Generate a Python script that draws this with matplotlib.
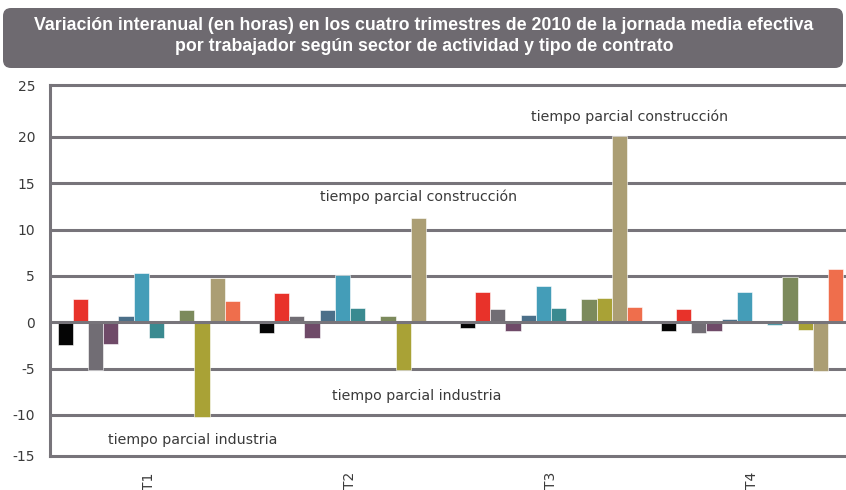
import matplotlib.pyplot as plt
import numpy as np
from matplotlib.patches import FancyBboxPatch

# Quarters on the x axis
quarters = ['T1', 'T2', 'T3', 'T4']

# Year-on-year change (hours) for each of the 12 series, per quarter
t1 = [-2.5, 2.55, -5.1, -2.3, 0.7, 5.3, -1.75, 0.0, 1.35, -10.2, 4.8, 2.35]
t2 = [-1.2, 3.2, 0.7, -1.7, 1.35, 5.05, 1.55, 0.0, 0.7, -5.2, 11.3, 0.0]
t3 = [-0.6, 3.25, 1.4, -0.9, 0.75, 3.95, 1.55, 0.0, 2.5, 2.6, 20.1, 1.7]
t4 = [-0.9, 1.4, -1.2, -0.9, 0.4, 3.25, 0.0, -0.3, 4.9, -0.85, -5.3, 5.75]

colors = ['#050505', '#e8322a', '#716d74', '#6f4a68', '#4b6f89', '#449db8',
          '#3a8a90', '#4e9aa8', '#7c8a5c', '#a9a236', '#ab9e74', '#ef6e4c']

y_labels = ['-15', '-10', '-5', '0', '5', '10', '15', '20', '25']

title = ('Variación interanual (en horas) en los cuatro trimestres de 2010 de la jornada media efectiva\n'
         'por trabajador según sector de actividad y tipo de contrato')

grid_color = '#77747a'
text_color = '#3a3a3a'

values = np.array([t1, t2, t3, t4])
n_series = values.shape[1]
width = 0.0756

fig = plt.figure(figsize=(8.46, 4.90), dpi=100)

# title banner drawn in pixel coordinates
bg = fig.add_axes([0, 0, 1, 1])
bg.set_xlim(0, 846)
bg.set_ylim(490, 0)
bg.axis('off')
bg.add_patch(FancyBboxPatch((3, 8), 840, 60, boxstyle='round,pad=0,rounding_size=8',
                            facecolor='#6e6a70', edgecolor='none'))
bg.text(424, 36, title, ha='center', va='center', color='white', fontsize=12.8,
        fontweight='bold', family=['Liberation Sans', 'DejaVu Sans'], linespacing=1.25)

ax = fig.add_axes([50.3 / 846, 34.5 / 490, 1 - 50.3 / 846, 370.2 / 490])
ymin, ymax = -14.38, 25.58
ax.set_xlim(-0.49, 3.467)
ax.set_ylim(ymin, ymax)

for y in range(-10, 21, 5):
    ax.axhline(y, color=grid_color, lw=2.2, zorder=1 if y != 0 else 4)

x = np.arange(len(quarters))
for k in range(n_series):
    ax.bar(x + (k - 5.5) * width, values[:, k], width=width, color=colors[k],
           edgecolor='white', linewidth=0.4, zorder=2)

ax.set_xticks(x)
ax.set_xticklabels(quarters, rotation=90, fontsize=10, color=text_color)
ax.set_yticks([ymin, -10, -5, 0, 5, 10, 15, 20, ymax])
ax.set_yticklabels(y_labels, fontsize=10, color=text_color)
ax.tick_params(axis='both', length=0)
ax.tick_params(axis='y', pad=11)
ax.tick_params(axis='x', pad=12)

for side in ['left', 'top', 'bottom']:
    ax.spines[side].set_color(grid_color)
    ax.spines[side].set_linewidth(2.2)
ax.spines['right'].set_visible(False)

ann = dict(ha='center', va='center', fontsize=10.2, color=text_color,
           family='DejaVu Sans')
ax.text(1.343, 13.6, 'tiempo parcial construcción', **ann)
ax.text(2.393, 22.15, 'tiempo parcial construcción', **ann)
ax.text(1.334, -7.95, 'tiempo parcial industria', **ann)
ax.text(0.219, -12.7, 'tiempo parcial industria', **ann)

fig.savefig('out.png', dpi=100)
